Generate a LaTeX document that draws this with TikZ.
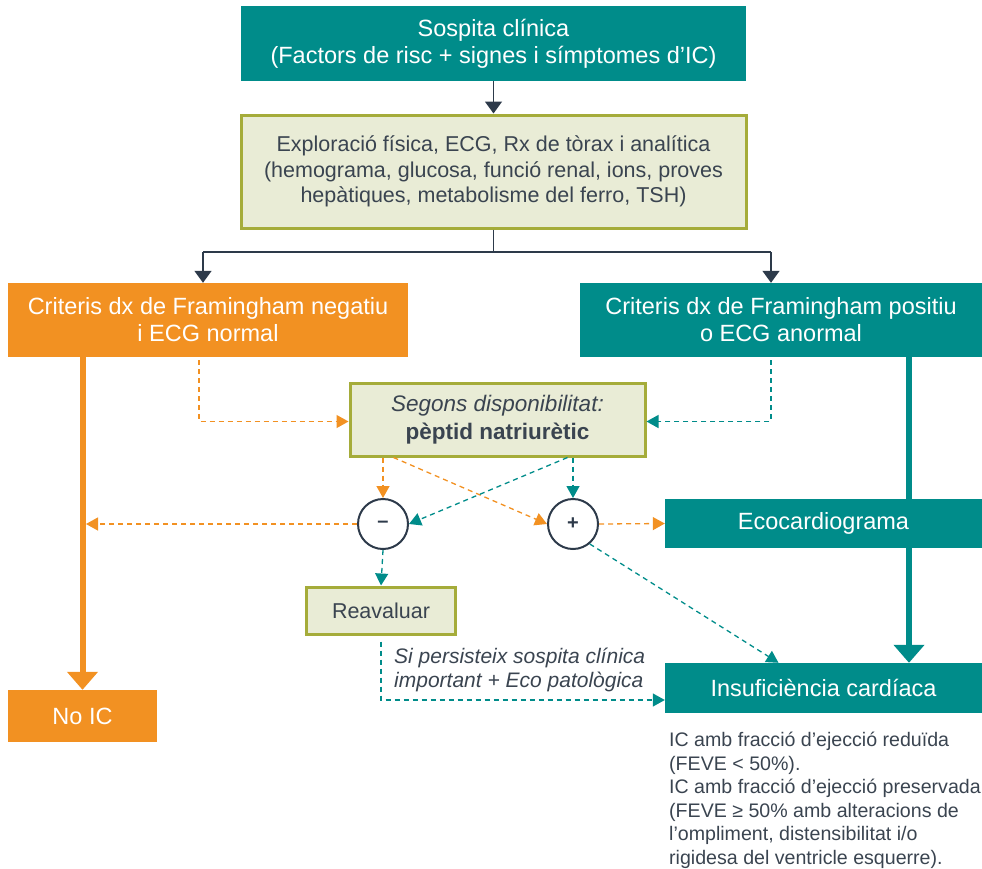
\documentclass[tikz,border=0pt]{standalone}
\usepackage{fontspec}
\setmainfont{Liberation Sans}
\usetikzlibrary{arrows.meta}
\definecolor{tealc}{RGB}{0,140,138}
\definecolor{orangec}{RGB}{242,145,34}
\definecolor{olivec}{RGB}{165,172,58}
\definecolor{olivefill}{RGB}{233,236,214}
\definecolor{darkc}{RGB}{45,58,74}
\definecolor{textc}{RGB}{58,68,80}
\tikzset{>=latex}

\begin{document}
\begin{tikzpicture}[x=1pt, y=-1pt]
                % boxes and connectors, sizes in px of the layout
                \tikzstyle{every node}=[inner sep=0pt, align=center]
                \tikzstyle{tealbox}=[rectangle, fill=tealc, text=white, font=\fontsize{23.5}{27}\selectfont]
                \tikzstyle{orangebox}=[rectangle, fill=orangec, text=white, font=\fontsize{23.5}{27}\selectfont]
                \tikzstyle{olivebox}=[rectangle, fill=olivefill, draw=olivec, line width=3pt, text=textc, font=\fontsize{21.5}{25.5}\selectfont]
                \tikzstyle{signcirc}=[circle, draw=darkc, line width=2pt, fill=white, minimum size=50pt, text=darkc, font=\fontsize{20}{20}\selectfont\bfseries]
                \tikzstyle{darkarrow}=[darkc, line width=1.5pt, -{Triangle[length=12pt, width=17pt]}]
                \tikzstyle{darkline}=[darkc, line width=1.5pt]
                \tikzstyle{orangethick}=[orangec, line width=6pt, -{Triangle[length=18pt, width=30pt]}]
                \tikzstyle{tealthick}=[tealc, line width=6pt, -{Triangle[length=18pt, width=30pt]}]
                \tikzstyle{orangedash}=[orangec, line width=1.3pt, dash pattern=on 5pt off 4pt, -{Triangle[length=12pt, width=13pt]}]
                \tikzstyle{tealdash}=[tealc, line width=1.3pt, dash pattern=on 5pt off 4pt, -{Triangle[length=12pt, width=13pt]}]
                \useasboundingbox (0,0) rectangle (982,868);

                \node[tealbox, minimum width=505pt, minimum height=75pt] (sosp) at (493.5,43.5) {Sospita clínica\\(Factors de risc + signes i símptomes d’IC)};
                \node[olivebox, minimum width=505pt, minimum height=113pt] (expl) at (493.5,171.5) {Exploració física, ECG, Rx de tòrax i analítica\\(hemograma, glucosa, funció renal, ions, proves\\hepàtiques, metabolisme del ferro, TSH)};
                \node[orangebox, minimum width=400pt, minimum height=74pt] (neg) at (208,320) {Criteris dx de Framingham negatiu\\i ECG normal};
                \node[tealbox, minimum width=402pt, minimum height=74pt] (pos) at (781,320) {Criteris dx de Framingham positiu\\o ECG anormal};
                \node[olivebox, minimum width=295pt, minimum height=73pt, font=\fontsize{22.5}{28}\selectfont] (pep) at (497.5,419.5) {\textit{Segons disponibilitat:}\\\textbf{pèptid natriurètic}};
                \node[signcirc] (minus) at (383,524) {–};
                \node[signcirc] (plus) at (573,524) {+};
                \node[tealbox, minimum width=317pt, minimum height=49pt] (eco) at (823.5,523.5) {Ecocardiograma};
                \node[olivebox, minimum width=149pt, minimum height=47pt] (reav) at (381,610.5) {Reavaluar};
                \node[tealbox, minimum width=317pt, minimum height=50pt] (ic) at (823.5,688) {Insuficiència cardíaca};
                \node[orangebox, minimum width=149pt, minimum height=52pt] (noic) at (82.5,716) {No IC};
                \node[anchor=north west, align=left, text=textc, font=\fontsize{19.6}{23.5}\selectfont] (feve) at (669,732) {IC amb fracció d’ejecció reduïda\\(FEVE < 50\%).\\IC amb fracció d’ejecció preservada\\(FEVE ≥ 50\% amb alteracions de\\l’ompliment, distensibilitat i/o\\rigidesa del ventricle esquerre).};
                \node[anchor=north west, align=left, text=textc, font=\fontsize{21}{23.5}\selectfont\itshape] (pers) at (394,648) {Si persisteix sospita clínica\\important + Eco patològica};

                \coordinate (splitL) at (203,252);
                \coordinate (splitR) at (771,252);
                \coordinate (leftend) at (86,524);
                \coordinate (icin) at (909,0);

                \draw[darkarrow] (sosp.south) -- (expl.north);
                \draw[darkline] (expl.south) -- (expl.south |- splitL);
                \draw[darkline] (splitL) -- (splitR);
                \draw[darkarrow] (splitL) -- (splitL |- neg.north);
                \draw[darkarrow] (splitR) -- (splitR |- pos.north);

                \draw[orangethick] (neg.south -| noic.north) -- (noic.north);
                \draw[tealc, line width=6pt] (pos.south -| icin) -- (eco.north -| icin);
                \draw[tealthick] (eco.south -| icin) -- (ic.north -| icin);

                \draw[orangedash] ([xshift=-9pt, yshift=-3pt]neg.south) |- ([yshift=-2pt]pep.west);
                \draw[tealdash] ([xshift=-10pt, yshift=-3pt]pos.south) |- ([yshift=-2pt]pep.east);
                \draw[orangedash] (pep.south -| minus) -- (minus.north);
                \draw[tealdash] (pep.south -| plus) -- (plus.north);
                \draw[orangedash] ([xshift=-104pt]pep.south) -- (plus.west);
                \draw[tealdash] ([xshift=70pt]pep.south) -- (minus.east);
                \draw[orangedash] (minus.west) -- (leftend);
                \draw[orangedash] (plus.east) -- (eco.west);
                \draw[tealdash] (minus.south) -- (reav.north);
                \draw[tealdash] ([yshift=-6pt]reav.south) |- ([yshift=-12pt]ic.west);
                \draw[tealdash] (plus.-50) -- ([xshift=-45pt]ic.north);
\end{tikzpicture}
\end{document}
